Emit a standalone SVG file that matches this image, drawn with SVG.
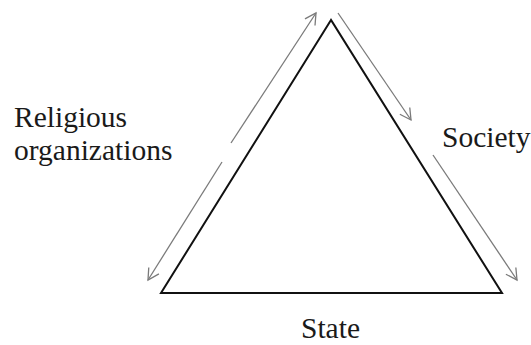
<svg xmlns="http://www.w3.org/2000/svg" width="531" height="345" viewBox="0 0 531 345">
<style>
.lbl{font-family:"Liberation Serif","Times New Roman",serif;font-size:29.5px;fill:#1a1a1a}
.arr{stroke:#7a7a7a;stroke-width:1.3;fill:none;marker-end:url(#ah)}
</style>
<defs>
<marker id="ah" markerWidth="14" markerHeight="14" refX="12" refY="7" orient="auto" markerUnits="userSpaceOnUse">
<path d="M1,1 L12,7 L1,13" fill="none" stroke="#7a7a7a" stroke-width="1.3"/>
</marker>
</defs>
<rect width="531" height="345" fill="#fff"/>
<g id="triangle">
<polygon points="331,20 161,293 502,293" fill="none" stroke="#111" stroke-width="2"/>
</g>
<g id="religious">
<text class="lbl" x="14" y="127">Religious</text>
<text class="lbl" x="14" y="160">organizations</text>
</g>
<g id="society">
<text class="lbl" x="442" y="147">Society</text>
</g>
<g id="state">
<text class="lbl" x="301" y="338">State</text>
</g>
<g id="connectors">
<path class="arr" d="M231,143 L316,13"/>
<path class="arr" d="M222,162 L148,280"/>
<path class="arr" d="M338,13 L411,120"/>
<path class="arr" d="M433,155 L517,280"/>
</g>
</svg>
